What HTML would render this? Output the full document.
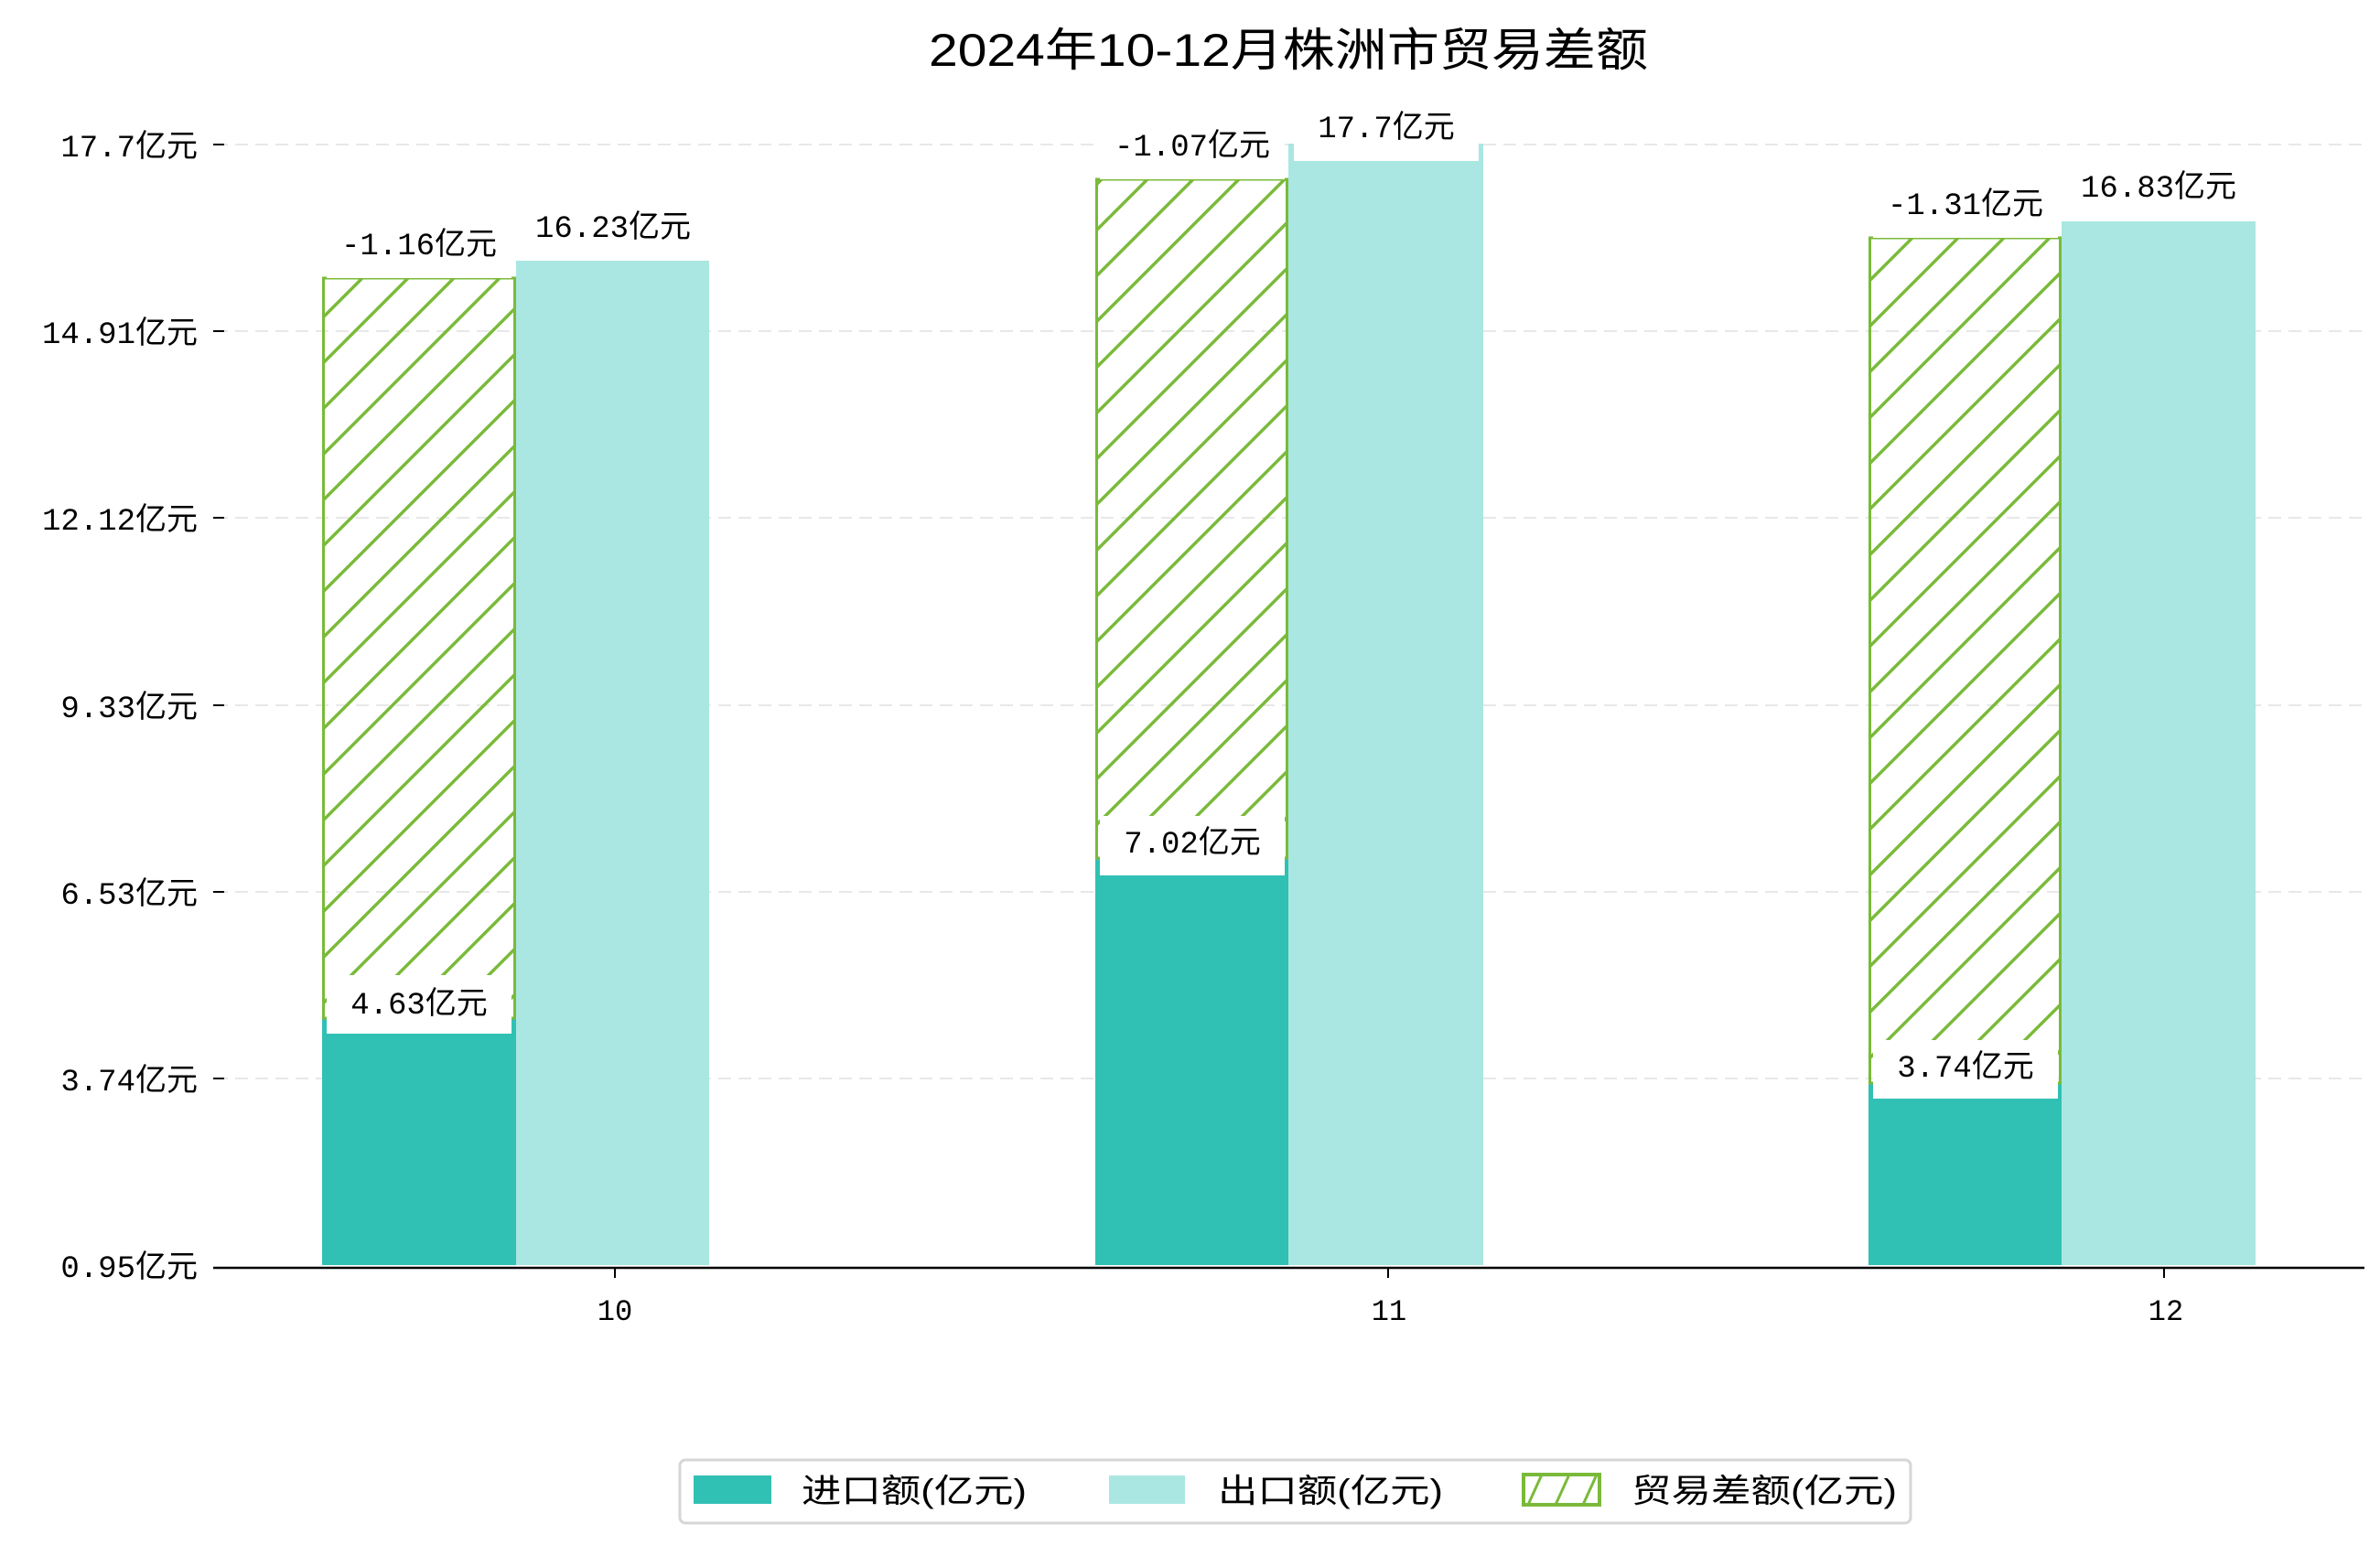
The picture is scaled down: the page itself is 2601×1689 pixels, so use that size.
<!DOCTYPE html>
<html><head><meta charset="utf-8"><style>
html,body{margin:0;padding:0;background:#fff}
svg{display:block}
text{font-family:"Liberation Mono","WenQuanYi Zen Hei","Noto Sans CJK SC",monospace;fill:#000}
text.t{font-family:"Liberation Sans","WenQuanYi Zen Hei","Noto Sans CJK SC",sans-serif}
</style></head><body>
<svg width="2601" height="1689" viewBox="0 0 2601 1689" xmlns="http://www.w3.org/2000/svg">
<defs>
<pattern id="h" patternUnits="userSpaceOnUse" width="50" height="50">
<path d="M-5,55 L55,-5 M-30,30 L30,-30 M20,80 L80,20" stroke="#7aba3a" stroke-width="3.5"/>
</pattern>
</defs>
<text class="t" x="1408" y="72" font-size="50" text-anchor="middle" textLength="786" lengthAdjust="spacingAndGlyphs">2024年10-12月株洲市贸易差额</text>
<g stroke="#e8e8e8" stroke-width="2" stroke-dasharray="14,8">
<line x1="235" x2="2584" y1="158" y2="158"/>
<line x1="235" x2="2584" y1="362" y2="362"/>
<line x1="235" x2="2584" y1="566" y2="566"/>
<line x1="235" x2="2584" y1="771" y2="771"/>
<line x1="235" x2="2584" y1="975" y2="975"/>
<line x1="235" x2="2584" y1="1179" y2="1179"/>
</g>
<g stroke="#000" stroke-width="2">
<line x1="233" x2="245" y1="158" y2="158"/><line x1="233" x2="245" y1="362" y2="362"/>
<line x1="233" x2="245" y1="566" y2="566"/><line x1="233" x2="245" y1="771" y2="771"/>
<line x1="233" x2="245" y1="975" y2="975"/><line x1="233" x2="245" y1="1179" y2="1179"/>
</g>
<g font-size="34" text-anchor="end">
<text x="216" y="171">17.7亿元</text>
<text x="216" y="375">14.91亿元</text>
<text x="216" y="579">12.12亿元</text>
<text x="216" y="784">9.33亿元</text>
<text x="216" y="988">6.53亿元</text>
<text x="216" y="1192">3.74亿元</text>
<text x="216" y="1396">0.95亿元</text>
</g>
<rect x="352" y="1113" width="212" height="270" fill="#31c0b4"/>
<rect x="564" y="285" width="211" height="1098" fill="#aae7e2"/>
<rect x="353.5" y="304" width="209" height="809" fill="url(#h)" stroke="#7aba3a" stroke-width="3"/>
<rect x="1197" y="938" width="211" height="445" fill="#31c0b4"/>
<rect x="1408" y="157" width="213" height="1226" fill="#aae7e2"/>
<rect x="1198.5" y="196" width="208" height="742" fill="url(#h)" stroke="#7aba3a" stroke-width="3"/>
<rect x="2042" y="1184" width="211" height="199" fill="#31c0b4"/>
<rect x="2253" y="242" width="212" height="1141" fill="#aae7e2"/>
<rect x="2043.5" y="260" width="208" height="924" fill="url(#h)" stroke="#7aba3a" stroke-width="3"/>
<g fill="#fff">
<rect x="357" y="1066" width="202" height="64"/>
<rect x="1202" y="892" width="202" height="65"/>
<rect x="2047" y="1137" width="202" height="64"/>
<rect x="357" y="240" width="202" height="64"/>
<rect x="1202" y="132" width="202" height="64"/>
<rect x="2047" y="196" width="202" height="64"/>
<rect x="569" y="221" width="202" height="64"/>
<rect x="1414" y="112" width="202" height="64"/>
<rect x="2258" y="178" width="202" height="64"/>
</g>
<g font-size="34" text-anchor="middle">
<text x="458" y="1108">4.63亿元</text>
<text x="1303" y="932">7.02亿元</text>
<text x="2148" y="1177">3.74亿元</text>
<text x="458" y="278">-1.16亿元</text>
<text x="1303" y="170">-1.07亿元</text>
<text x="2148" y="234">-1.31亿元</text>
<text x="670" y="259">16.23亿元</text>
<text x="1515" y="150">17.7亿元</text>
<text x="2359" y="215">16.83亿元</text>
</g>
<line x1="233" x2="2584" y1="1386" y2="1386" stroke="#000" stroke-width="2.5"/>
<g stroke="#000" stroke-width="2">
<line x1="672" x2="672" y1="1386" y2="1397"/><line x1="1517" x2="1517" y1="1386" y2="1397"/><line x1="2365" x2="2365" y1="1386" y2="1397"/>
</g>
<g font-size="32" text-anchor="middle">
<text x="672" y="1443">10</text><text x="1518" y="1443">11</text><text x="2367" y="1443">12</text>
</g>
<rect x="743" y="1596" width="1345" height="69" rx="6" fill="#fff" stroke="#d6d6d6" stroke-width="3"/>
<rect x="758" y="1613" width="85" height="31" fill="#31c0b4"/>
<rect x="1212" y="1613" width="83" height="31" fill="#aae7e2"/>
<rect x="1665" y="1612" width="83" height="33" fill="#fff" stroke="#7aba3a" stroke-width="4"/>
<path d="M1670,1645 L1685,1612 M1700,1645 L1715,1612 M1730,1645 L1745,1612" stroke="#7aba3a" stroke-width="3"/>
<g font-size="36">
<text class="t" x="876" y="1642" textLength="246" lengthAdjust="spacingAndGlyphs">进口额(亿元)</text>
<text class="t" x="1331" y="1642" textLength="246" lengthAdjust="spacingAndGlyphs">出口额(亿元)</text>
<text class="t" x="1783" y="1642" textLength="290" lengthAdjust="spacingAndGlyphs">贸易差额(亿元)</text>
</g>
</svg>
</body></html>
